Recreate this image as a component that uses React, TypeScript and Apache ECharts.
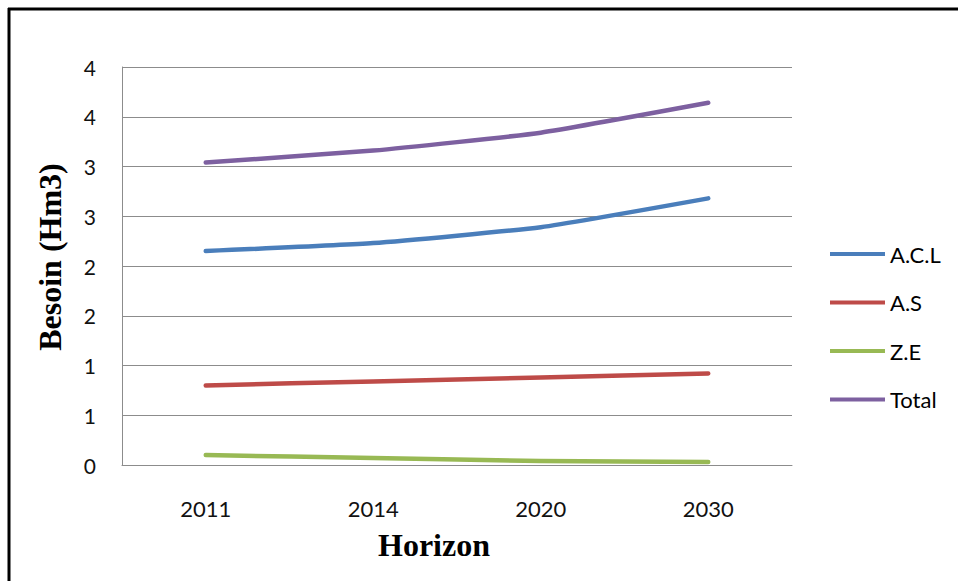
import React, { useEffect, useRef } from "react";
import * as echarts from "echarts";

const categories = ["2011", "2014", "2020", "2030"];
const acl = [2.15, 2.23, 2.39, 2.68];
const as_ = [0.8, 0.84, 0.88, 0.92];
const ze = [0.1, 0.07, 0.04, 0.03];
const total = [3.04, 3.16, 3.34, 3.64];
const yTickLabels = ["0", "1", "1", "2", "2", "3", "3", "4", "4"];
const seriesNames = ["A.C.L", "A.S", "Z.E", "Total"];
const colors = ["#4A7EBB", "#BE4B48", "#98B954", "#7D60A0"];

export default function App() {
  const ref = useRef<HTMLDivElement>(null);
  useEffect(() => {
    if (!ref.current) return;
    const chart = echarts.init(ref.current, null, { renderer: "svg" });
    const values = [acl, as_, ze, total];
    chart.setOption({
      animation: false,
      backgroundColor: "#ffffff",
      grid: { left: 122, right: 166, top: 67, bottom: 116, containLabel: false },
      legend: {
        orient: "vertical",
        left: 825,
        top: 237,
        icon: "rect",
        itemWidth: 55,
        itemHeight: 4,
        itemGap: 24.5,
        data: seriesNames,
        textStyle: { fontFamily: "Lato", fontSize: 22, color: "#000", lineHeight: 24 },
      },
      xAxis: {
        type: "category",
        data: categories,
        boundaryGap: true,
        axisLine: { show: true, lineStyle: { color: "#8c8c8c", width: 1 } },
        axisTick: { show: false },
        axisLabel: { fontFamily: "Lato", fontSize: 22, color: "#111", margin: 32 },
      },
      yAxis: {
        type: "value",
        min: 0,
        max: 4,
        interval: 0.5,
        axisLine: { show: true, lineStyle: { color: "#8c8c8c", width: 1 } },
        axisTick: { show: false },
        splitLine: { show: true, lineStyle: { color: "#8c8c8c", width: 1 } },
        axisLabel: {
          fontFamily: "Lato",
          fontSize: 21,
          color: "#111",
          margin: 26,
          formatter: (_v: number, i: number) => yTickLabels[i] ?? "",
        },
      },
      series: seriesNames.map((n, i) => ({
        name: n,
        type: "line",
        data: values[i],
        smooth: 0.15,
        showSymbol: false,
        symbol: "none",
        color: colors[i],
        lineStyle: { color: colors[i], width: 4.5, cap: "round", join: "round" },
        itemStyle: { color: colors[i] },
      })),
      graphic: [
        {
          type: "line",
          shape: { x1: 8, y1: 9, x2: 958, y2: 9 },
          style: { stroke: "#000", lineWidth: 3 },
        },
        {
          type: "line",
          shape: { x1: 9, y1: 8, x2: 9, y2: 581 },
          style: { stroke: "#000", lineWidth: 3 },
        },
        {
          type: "text",
          x: 50,
          y: 257,
          rotation: Math.PI / 2,
          style: {
            text: "Besoin (Hm3)",
            fontFamily: "Liberation Serif",
            fontWeight: "bold",
            fontSize: 32,
            fill: "#000",
            align: "center",
            verticalAlign: "middle",
          },
        },
        {
          type: "text",
          x: 434,
          y: 545,
          style: {
            text: "Horizon",
            fontFamily: "Liberation Serif",
            fontWeight: "bold",
            fontSize: 32,
            fill: "#000",
            align: "center",
            verticalAlign: "middle",
          },
        },
      ],
    });
    return () => chart.dispose();
  }, []);
  return (
    <div
      ref={ref}
      style={{ position: "absolute", left: 0, top: 0, width: 958, height: 581 }}
    />
  );
}
